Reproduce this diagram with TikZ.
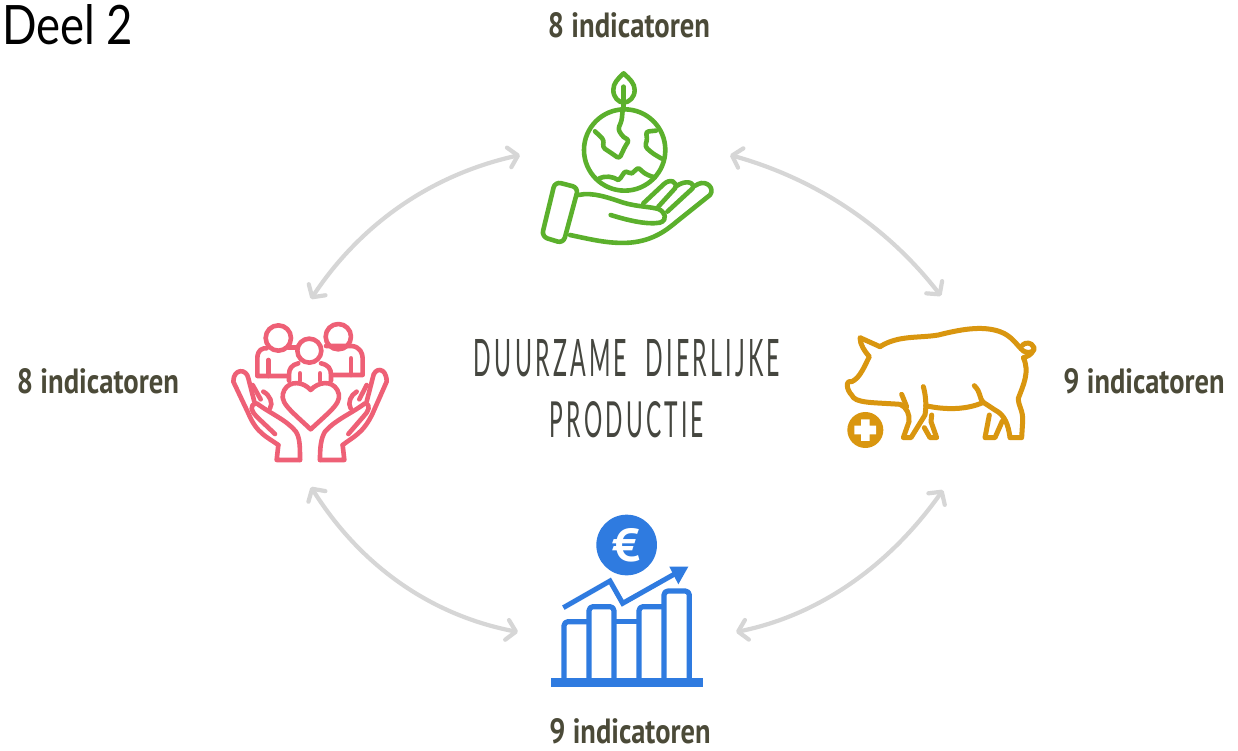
\documentclass[tikz,border=0pt]{standalone}
\usepackage{graphicx}
\usepackage{fontspec}
\setmainfont{PT Sans}
\newfontfamily\deelfont{Lato}
\newfontfamily\handfont[LetterSpace=14]{Lato}
\usetikzlibrary{arrows.meta}
\definecolor{txt}{HTML}{4B4A38}
\definecolor{central}{HTML}{45463F}
\definecolor{arr}{HTML}{D6D6D6}
\definecolor{gr}{HTML}{5BB02C}
\definecolor{pk}{HTML}{EE6076}
\definecolor{og}{HTML}{D9960F}
\definecolor{bl}{HTML}{2F7BE0}
\tikzset{
  lab/.style={inner sep=0pt,text=txt,font=\bfseries},
  barb/.tip={Straight Barb[length=9pt,width=20pt,line width=4.2pt,round]},
  conn/.style={draw=arr,line width=4.2pt,barb-barb},
  ico/.style={line width=#1,line join=round,line cap=round},
  zoomed/.style={x=0.3333pt,y=-0.3333pt},
}
\newcommand{\fitlabel}[1]{\resizebox{162pt}{25pt}{#1}}
\begin{document}
\begin{tikzpicture}[x=1pt,y=-1pt]
\useasboundingbox (0,0) rectangle (1238,750);
\fill[white] (0,0) rectangle (1238,750);

% texts
\node[anchor=south west,inner sep=0pt] (deel) at (2,45) {\resizebox{131pt}{40pt}{\deelfont Deel 2}};
\node[lab] (ltop) at (629,25) {\fitlabel{8 indicatoren}};
\node[lab] (lleft) at (98,381) {\fitlabel{8 indicatoren}};
\node[lab] (lright) at (1144,381) {\resizebox{161pt}{25pt}{9 indicatoren}};
\node[lab] (lbot) at (630,731) {\resizebox{161pt}{25pt}{9 indicatoren}};
\node[inner sep=0pt,text=central] (c1) at (627,358) {\resizebox{306pt}{37pt}{\handfont DUURZAME\ \ DIERLIJKE}};
\node[inner sep=0pt,text=central] (c2) at (627,420) {\resizebox{154pt}{36pt}{\handfont PRODUCTIE}};

% connector ends
\coordinate (tl1) at (520,155); \coordinate (tl2) at (311,299);
\coordinate (tr1) at (730,155); \coordinate (tr2) at (941,296);
\coordinate (bl1) at (311,487); \coordinate (bl2) at (518,632);
\coordinate (br1) at (943,490); \coordinate (br2) at (736,632);
\draw[conn] (tl1) .. controls (430,175) and (360,225) .. (tl2);
\draw[conn] (tr1) .. controls (820,180) and (890,230) .. (tr2);
\draw[conn] (bl1) .. controls (360,565) and (430,615) .. (bl2);
\draw[conn] (br1) .. controls (890,565) and (820,615) .. (br2);

% green icon
\begin{scope}[shift={(530,60)},zoomed,draw=gr,ico=4.6pt]
\draw (281,40) .. controls (262,58) and (250,70) .. (250,90) .. controls (250,112) and (265,127) .. (281,128) .. controls (298,127) and (314,112) .. (314,90) .. controls (314,70) and (300,58) .. (281,40) -- cycle;
\draw (281,80) -- (281,150);
\draw (284,270) circle[radius=122];
\draw[rounded corners=3pt] (278,150) -- (275,182) -- (264,208) -- (280,232) -- (298,240) -- (286,258) -- (268,296) -- (245,280) -- (218,262) -- (222,240) -- (195,214);
\draw[rounded corners=3pt] (378,212) -- (347,215) -- (352,236) -- (345,260) -- (368,280) -- (395,296);
\draw (205,357) .. controls (225,345) and (250,350) .. (265,360) .. controls (275,355) and (280,335) .. (288,335) .. controls (295,335) and (300,342) .. (306,340) .. controls (315,335) and (320,322) .. (328,326) .. controls (338,335) and (345,345) .. (375,352);
% cuff
\draw[rounded corners=6pt] (75,365) -- (145,383) -- (100,550) -- (35,530) -- cycle;
% hand
\draw (145,405) .. controls (190,395) and (240,415) .. (280,428) .. controls (320,440) and (360,440) .. (385,447) .. controls (405,455) and (415,480) .. (390,488) .. controls (350,495) and (290,480) .. (242,465);
\draw (120,525) .. controls (190,540) and (240,552) .. (300,548) .. controls (370,542) and (410,510) .. (440,485) -- (540,405) .. controls (555,385) and (530,360) .. (505,372) -- (490,380);
\draw (340,430) -- (402,372) .. controls (420,355) and (445,365) .. (435,385) -- (385,440);
\draw (440,378) .. controls (465,360) and (495,365) .. (488,385) -- (412,455);
\end{scope}

% pink icon
\begin{scope}[shift={(220,310)},zoomed,draw=pk,ico=4.6pt]
\draw (175,84) circle[radius=38];
\draw (355,80) circle[radius=38];
\draw (268,122) circle[radius=36];
\draw (140,115) -- (132,115) .. controls (115,118) and (112,135) .. (112,145) -- (112,198) -- (205,198);
\draw (145,150) -- (145,198);
\draw (205,113) -- (230,113);
\draw (318,108) -- (395,108) .. controls (420,110) and (428,130) .. (428,145) -- (428,195) -- (335,195);
\draw (393,145) -- (393,195);
\draw (235,160) .. controls (215,165) and (207,175) .. (207,195) -- (207,212);
\draw (303,160) .. controls (325,165) and (333,175) .. (333,195) -- (333,212);
\draw (240,190) -- (240,212); \draw (300,190) -- (300,212);
% heart
\draw (272,240) .. controls (250,215) and (210,210) .. (193,240) .. controls (175,275) and (205,295) .. (272,358) .. controls (340,295) and (370,275) .. (352,240) .. controls (335,210) and (295,215) .. (272,240) -- cycle;
% left hand
\draw (175,405) .. controls (140,380) and (110,370) .. (85,310) -- (40,215) .. controls (40,175) and (80,175) .. (85,205) -- (103,275);
\draw (240,450) .. controls (240,410) and (240,385) .. (228,365) .. controls (200,330) and (150,310) .. (110,280) .. controls (85,285) and (95,305) .. (110,320) -- (165,372);
\draw (175,405) -- (170,450) -- (240,450);
\draw (98,225) -- (122,268); \draw (130,245) .. controls (150,255) and (160,280) .. (150,295) ;
% right hand
\draw (368,405) .. controls (400,380) and (430,370) .. (458,310) -- (500,215) .. controls (500,170) and (462,170) .. (458,205) -- (440,275);
\draw (300,450) .. controls (300,410) and (303,385) .. (315,365) .. controls (345,330) and (395,310) .. (435,280) .. controls (455,285) and (445,305) .. (430,320) -- (385,372);
\draw (368,405) -- (373,450) -- (300,450);
\draw (440,225) -- (418,268); \draw (410,245) .. controls (392,255) and (382,280) .. (392,295);
\end{scope}

% pig icon
\begin{scope}[shift={(835,315)},zoomed,draw=og,ico=5pt]
\draw (135,95) .. controls (190,60) and (250,70) .. (310,60) .. controls (370,45) and (440,30) .. (495,50) .. controls (530,62) and (545,90) .. (565,108) .. controls (590,120) and (600,105) .. (597,98) .. controls (590,80) and (570,82) .. (563,90);
\draw (595,105) .. controls (590,120) and (575,125) .. (565,128) .. controls (585,170) and (565,210) .. (550,250) .. controls (550,275) and (565,285) .. (563,320) -- (560,368) -- (525,368) .. controls (520,330) and (510,300) .. (480,285) -- (445,262) .. controls (430,245) and (440,235) .. (418,212);
\draw (135,95) -- (75,68) .. controls (75,90) and (90,110) .. (103,125) .. controls (90,150) and (75,190) .. (50,200) .. controls (30,195) and (35,225) .. (50,240) .. controls (60,265) and (110,262) .. (195,268) .. controls (215,275) and (225,300) .. (222,320) -- (205,368) -- (228,368) -- (270,300) .. controls (275,270) and (272,240) .. (265,215);
\draw (200,238) -- (215,275);
\draw (272,272) .. controls (330,285) and (395,285) .. (445,262);
\draw (290,300) -- (288,320) -- (305,368) -- (285,368) -- (268,338);
\draw (463,300) -- (450,368) -- (480,368) -- (502,318);
\fill[og] (91,345) circle[radius=54];
\fill[white] (78,313) -- (104,313) -- (104,332) -- (123,332) -- (123,358) -- (104,358) -- (104,378) -- (78,378) -- (78,358) -- (58,358) -- (58,332) -- (78,332) -- cycle;
\end{scope}

% chart icon
\begin{scope}[shift={(540,505)},zoomed,draw=bl]
\fill[bl] (260,120) circle[radius=91];
\node[inner sep=0pt,text=white,font=\bfseries] (euro) at (258,122) {\resizebox{28pt}{33pt}{€}};
\begin{scope}[line width=5.2pt,line join=round]
\draw[rounded corners=4pt] (72,520) -- (72,350) -- (147,350);
\draw[rounded corners=4pt] (147,520) -- (147,305) -- (222,305) -- (222,520);
\draw (222,350) -- (297,350);
\draw[rounded corners=4pt] (297,520) -- (297,305) -- (372,305);
\draw[rounded corners=4pt] (372,520) -- (372,258) -- (448,258) -- (448,520);
\end{scope}
\fill[bl] (33,518) rectangle (488,547);
\draw[line width=5pt,line join=miter] (70,308) -- (210,228) -- (248,295) -- (425,195);
\fill[bl] (388,185) -- (445,185) -- (415,238) -- cycle;
\end{scope}
\end{tikzpicture}
\end{document}
